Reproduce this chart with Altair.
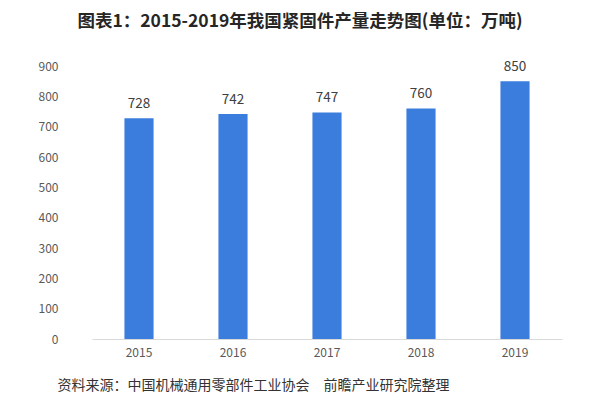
import altair as alt
import pandas as pd

years = ["2015", "2016", "2017", "2018", "2019"]
values = [728, 742, 747, 760, 850]

df = pd.DataFrame({"year": years, "value": values})

FONT = "Noto Sans CJK SC"

base = alt.Chart(df).encode(
    x=alt.X(
        "year:N",
        sort=years,
        scale=alt.Scale(paddingInner=0.69, paddingOuter=0.345),
        axis=alt.Axis(
            title="资料来源：中国机械通用零部件工业协会\u3000前瞻产业研究院整理",
            titleFont=FONT,
            titleFontSize=14,
            titleFontWeight="normal",
            titleColor="#333333",
            titleAnchor="start",
            titleAlign="left",
            titleBaseline="middle",
            titleX=-35,
            titleY=46,
            labelAngle=0,
            labelFont=FONT,
            labelFontSize=12,
            labelColor="#595959",
            labelPadding=8,
            ticks=False,
            domainColor="#d9d9d9",
            domainWidth=1,
        ),
    ),
    y=alt.Y(
        "value:Q",
        scale=alt.Scale(domain=[0, 900]),
        axis=alt.Axis(
            title=None,
            values=[0, 100, 200, 300, 400, 500, 600, 700, 800, 900],
            grid=False,
            domain=False,
            ticks=False,
            labelFont=FONT,
            labelFontSize=12,
            labelColor="#595959",
            labelPadding=34,
        ),
    ),
)

bars = base.mark_bar(color="#3B7DDD")
text = base.mark_text(
    baseline="bottom", dy=-7, font=FONT, fontSize=13.5, color="#404040"
).encode(text="value:Q")

chart = (
    (bars + text)
    .properties(
        width=470,
        height=273,
        background="white",
        autosize=alt.AutoSizeParams(type="none"),
        padding={"left": 84, "top": 58, "right": 30, "bottom": 60},
        title=alt.TitleParams(
            text="图表1：2015-2019年我国紧固件产量走势图(单位：万吨)",
            font=FONT,
            fontSize=17.5,
            fontWeight="bold",
            color="#262626",
            anchor="middle",
            dx=-27,
            offset=30,
        ),
    )
    .configure_view(stroke="transparent", strokeWidth=0)
)

chart.save("out.html", embed_options={"renderer": "svg", "actions": False})
